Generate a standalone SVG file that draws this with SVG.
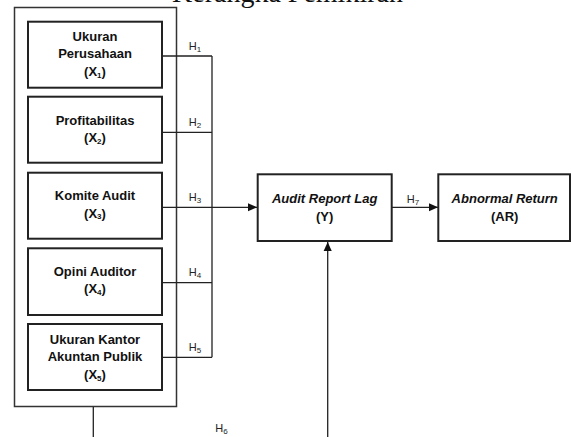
<svg xmlns="http://www.w3.org/2000/svg" width="571" height="437" viewBox="0 0 571 437">
<style>
.box{fill:#fff;stroke:#222;stroke-width:2}
.outer{fill:none;stroke:#333;stroke-width:1.5}
.ln{fill:none;stroke:#222;stroke-width:1.3}
.t{font-family:"Liberation Sans",Arial,sans-serif;font-size:13px;font-weight:bold;fill:#111;text-anchor:middle}
.ti{font-style:italic}
.h{font-family:"Liberation Sans",Arial,sans-serif;font-size:11px;fill:#222;text-anchor:middle}
.s{font-size:8px}
</style>
<defs>
<marker id="arr" viewBox="0 0 10 10" refX="10" refY="5" markerWidth="9" markerHeight="9" markerUnits="userSpaceOnUse" orient="auto">
<path d="M0,0.5 L10,5 L0,9.5 z" fill="#111"/>
</marker>
</defs>
<text x="172" y="1.5" font-family="'Liberation Serif','Times New Roman',serif" font-size="28" fill="#111">Kerangka Pemikiran</text>
<rect class="outer" x="14.5" y="7.5" width="162" height="399"/>
<g id="connectors">
<path class="ln" d="M162,56 H212 M162,132.3 H212 M162,282.7 H212 M162,357.3 H212 M212,56 V357.3"/>
<path class="ln" d="M162,207.3 H257" marker-end="url(#arr)"/>
<path class="ln" d="M392,207.3 H438" marker-end="url(#arr)"/>
<path class="ln" d="M93.3,407 V437"/>
<path class="ln" d="M327.7,437 V242" marker-end="url(#arr)"/>
<text class="h" x="195" y="50">H<tspan class="s" dy="2">1</tspan></text>
<text class="h" x="195" y="125.5">H<tspan class="s" dy="2">2</tspan></text>
<text class="h" x="195" y="201">H<tspan class="s" dy="2">3</tspan></text>
<text class="h" x="195" y="276">H<tspan class="s" dy="2">4</tspan></text>
<text class="h" x="195" y="351">H<tspan class="s" dy="2">5</tspan></text>
<text class="h" x="221.5" y="432">H<tspan class="s" dy="2">6</tspan></text>
<text class="h" x="413" y="202.5">H<tspan class="s" dy="2">7</tspan></text>
</g>
<g id="x1">
<rect class="box" x="28" y="21.7" width="134" height="66"/>
<text class="t" x="95" y="41">Ukuran</text>
<text class="t" x="95" y="58">Perusahaan</text>
<text class="t" x="95" y="76">(X<tspan class="s" dy="1.5">1</tspan><tspan dy="-1.5">)</tspan></text>
</g>
<g id="x2">
<rect class="box" x="28" y="96.7" width="134" height="66"/>
<text class="t" x="95" y="124.5">Profitabilitas</text>
<text class="t" x="95" y="142">(X<tspan class="s" dy="1.5">2</tspan><tspan dy="-1.5">)</tspan></text>
</g>
<g id="x3">
<rect class="box" x="28" y="172.7" width="134" height="66"/>
<text class="t" x="95" y="200">Komite Audit</text>
<text class="t" x="95" y="217.5">(X<tspan class="s" dy="1.5">3</tspan><tspan dy="-1.5">)</tspan></text>
</g>
<g id="x4">
<rect class="box" x="28" y="248.3" width="134" height="66.7"/>
<text class="t" x="95" y="276">Opini Auditor</text>
<text class="t" x="95" y="293">(X<tspan class="s" dy="1.5">4</tspan><tspan dy="-1.5">)</tspan></text>
</g>
<g id="x5">
<rect class="box" x="28" y="324" width="134" height="66"/>
<text class="t" x="95" y="344">Ukuran Kantor</text>
<text class="t" x="95" y="361">Akuntan Publik</text>
<text class="t" x="95" y="379">(X<tspan class="s" dy="1.5">5</tspan><tspan dy="-1.5">)</tspan></text>
</g>
<g id="y">
<rect class="box" x="257.7" y="174.3" width="134" height="66.7"/>
<text class="t ti" x="324.7" y="203">Audit Report Lag</text>
<text class="t" x="324.7" y="220.5">(Y)</text>
</g>
<g id="ar">
<rect class="box" x="438.3" y="174.3" width="131.7" height="66.7"/>
<text class="t ti" x="504.7" y="203">Abnormal Return</text>
<text class="t" x="504.7" y="220.5">(AR)</text>
</g>
</svg>
